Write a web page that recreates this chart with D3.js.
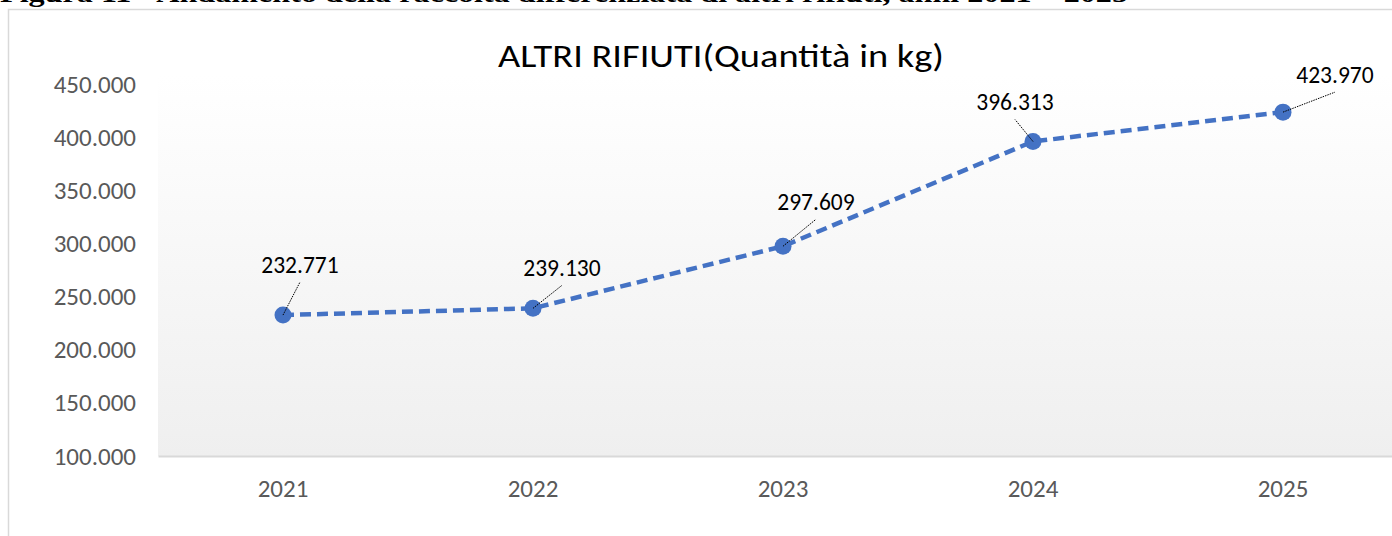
<!DOCTYPE html>
<html>
<head>
<meta charset="utf-8">
<script src="https://cdn.jsdelivr.net/npm/d3@7"></script>
<style>
	html, body { margin: 0; padding: 0; background: #fff; }
	svg { display: block; }
</style>
</head>
<body>
<div class="plot"></div>
<script>
// Chart data
const years = ['2021', '2022', '2023', '2024', '2025'];
const values = [232771, 239130, 297609, 396313, 423970];
const yTicks = [100000, 150000, 200000, 250000, 300000, 350000, 400000, 450000];

const heading = 'Figura 11 - Andamento della raccolta differenziata di altri rifiuti, anni 2021 – 2025';
const title = 'ALTRI RIFIUTI(Quantità in kg)';

// where each data label sits relative to its point (leader lines join them)
const labelDx = [17, 29, 33, -18, 52];
const labelDy = [-50, -40, -44, -39, -37];

const W = 1392, H = 536;
const font = "Carlito, Calibri, 'Open Sans', sans-serif";
const it = d3.formatLocale({decimal: ',', thousands: '.', grouping: [3], currency: ['€', '']});
const fmt = it.format(',.0f');

const svg = d3.select('.plot').append('svg')
	.attr('width', W)
	.attr('height', H);

// document heading, mostly cut off at the top
svg.append('text')
	.attr('x', 0)
	.attr('y', 2)
	.attr('font-family', "'Liberation Serif', 'Times New Roman', serif")
	.attr('font-weight', 'bold')
	.attr('font-size', 25)
	.attr('textLength', 1128)
	.attr('lengthAdjust', 'spacingAndGlyphs')
	.text(heading);

// chart frame
svg.append('path')
	.attr('d', `M8.5,${H} V9.5 H${W}`)
	.attr('fill', 'none')
	.attr('stroke', '#d9d9d9')
	.attr('stroke-width', 1.5);

const x = d3.scaleBand().domain(years).range([158, 1408]);
const y = d3.scaleLinear().domain([100000, 450000]).range([456, 84.5]);
const cx = d => x(d) + x.bandwidth() / 2;

// plot area gradient
const grad = svg.append('defs').append('linearGradient')
	.attr('id', 'bg')
	.attr('x1', 0).attr('y1', 0).attr('x2', 0).attr('y2', 1);
grad.append('stop').attr('offset', '0%').attr('stop-color', '#ffffff');
grad.append('stop').attr('offset', '100%').attr('stop-color', '#efefef');

svg.append('rect')
	.attr('x', 158)
	.attr('y', 75)
	.attr('width', W - 158)
	.attr('height', y(100000) - 75)
	.attr('fill', 'url(#bg)');

svg.append('text')
	.attr('x', 721)
	.attr('y', 67)
	.attr('text-anchor', 'middle')
	.attr('font-family', font)
	.attr('font-size', 32)
	.attr('fill', '#000')
	.attr('textLength', 446)
	.attr('lengthAdjust', 'spacingAndGlyphs')
	.text(title);

// axes
const yAxis = svg.append('g')
	.attr('transform', 'translate(158,0)')
	.call(d3.axisLeft(y).tickValues(yTicks).tickFormat(fmt).tickSize(0).tickPadding(22));
yAxis.select('.domain').remove();

const xAxis = svg.append('g')
	.attr('transform', `translate(0,${y(100000)})`)
	.call(d3.axisBottom(x).tickSize(0).tickSizeOuter(0).tickPadding(23));
xAxis.select('.domain')
	.attr('stroke', '#d9d9d9')
	.attr('stroke-width', 2);

svg.selectAll('.tick text')
	.attr('font-family', font)
	.attr('font-size', 25)
	.attr('fill', '#595959');

// series
const pts = years.map((d, i) => ({year: d, value: values[i], i}));

svg.append('path')
	.datum(pts)
	.attr('d', d3.line().x(d => cx(d.year)).y(d => y(d.value)))
	.attr('fill', 'none')
	.attr('stroke', '#4472c4')
	.attr('stroke-width', 4.5)
	.attr('stroke-dasharray', '11,6');

svg.selectAll('.marker')
	.data(pts)
	.enter().append('circle')
	.attr('class', 'marker')
	.attr('cx', d => cx(d.year))
	.attr('cy', d => y(d.value))
	.attr('r', 8.5)
	.attr('fill', '#4472c4');

// leader lines + data labels
const labels = svg.selectAll('.lbl')
	.data(pts)
	.enter().append('g')
	.attr('class', 'lbl');

labels.append('line')
	.attr('x1', d => cx(d.year))
	.attr('y1', d => y(d.value))
	.attr('x2', d => cx(d.year) + labelDx[d.i])
	.attr('y2', d => y(d.value) + labelDy[d.i] + 17)
	.attr('stroke', '#000')
	.attr('stroke-width', 1)
	.attr('stroke-dasharray', '1.5,1');

labels.append('text')
	.attr('x', d => cx(d.year) + labelDx[d.i])
	.attr('y', d => y(d.value) + labelDy[d.i])
	.attr('dy', '0.34em')
	.attr('text-anchor', 'middle')
	.attr('font-family', font)
	.attr('font-size', 23.5)
	.attr('fill', '#000')
	.text(d => fmt(d.value));
</script>
</body>
</html>
